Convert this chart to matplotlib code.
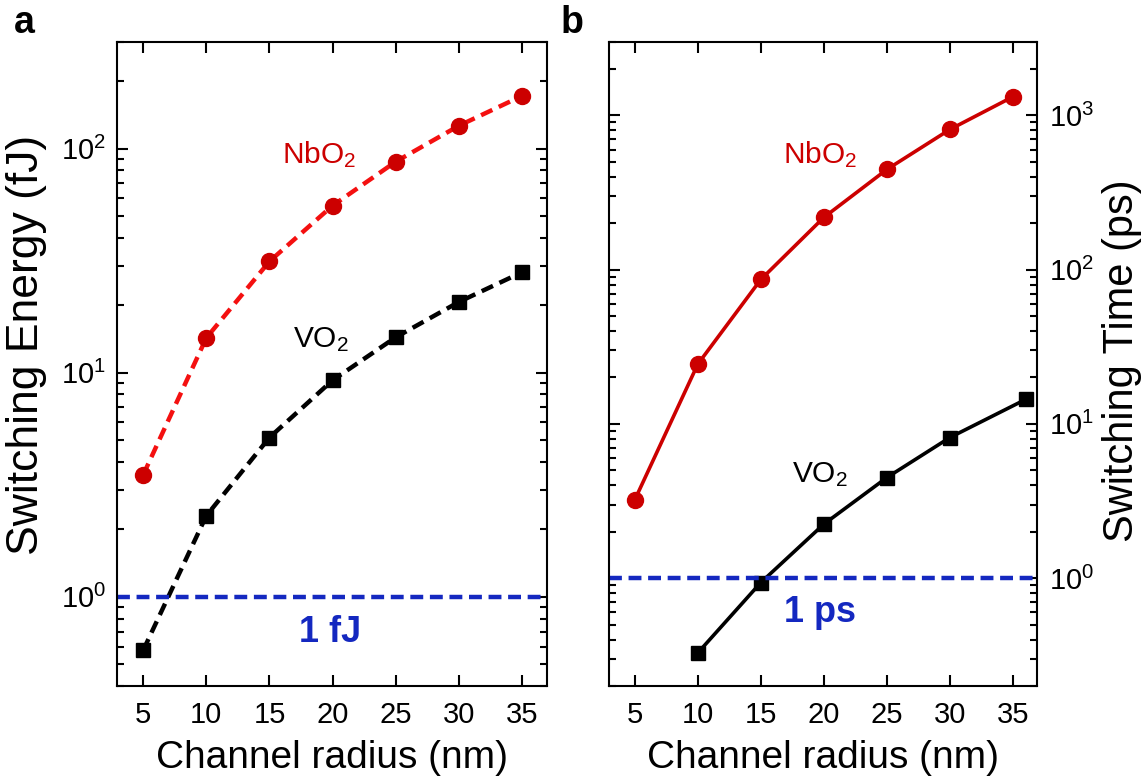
import matplotlib
matplotlib.use("Agg")
import matplotlib.pyplot as plt
from matplotlib.ticker import LogLocator, NullFormatter

plt.rcParams['font.family'] = ['Liberation Sans', 'DejaVu Sans']
plt.rcParams['mathtext.fontset'] = 'custom'
plt.rcParams['mathtext.rm'] = 'Liberation Sans'
plt.rcParams['mathtext.it'] = 'Liberation Sans:italic'
plt.rcParams['mathtext.bf'] = 'Liberation Sans:bold'

# data
radius = [5, 10, 15, 20, 25, 30, 35]
energy_nbo2 = [3.5, 14.3, 31.4, 55.7, 87.5, 126.6, 172]
energy_vo2 = [0.577, 2.30, 5.14, 9.26, 14.4, 20.7, 28.1]
time_nbo2 = [3.22, 24.4, 86.3, 218, 446, 810, 1320]
radius_vo2_time = [10, 15, 20, 25, 30, 36]
time_vo2 = [0.328, 0.937, 2.24, 4.49, 8.16, 14.4]
xticks = [5, 10, 15, 20, 25, 30, 35]

RED = '#cc0000'
RED_DASH = '#f41010'
BLUE = '#1428c0'

fig = plt.figure(figsize=(11.44, 7.80), dpi=100)
ax1 = fig.add_axes([0.1025, 0.1205, 0.3754, 0.826])
ax2 = fig.add_axes([0.5323, 0.1205, 0.3746, 0.826])


def style_axis(ax):
    ax.set_yscale('log')
    ax.set_xlim(2.95, 36.95)
    ax.set_xticks(xticks)
    ax.yaxis.set_major_locator(LogLocator(base=10, numticks=10))
    ax.yaxis.set_minor_locator(LogLocator(base=10, subs=range(2, 10), numticks=10))
    ax.yaxis.set_minor_formatter(NullFormatter())
    for s in ax.spines.values():
        s.set_linewidth(1.5)
    ax.tick_params(which='both', direction='in', top=True, bottom=True,
                   left=True, right=True, width=1.5, labelsize=21)
    ax.tick_params(which='major', length=8)
    ax.tick_params(which='minor', length=4.8)
    ax.tick_params(axis='x', pad=11)
    ax.tick_params(axis='y', pad=8)


# panel a: switching energy
style_axis(ax1)
ax1.set_ylim(0.4, 300)
ax1.plot(radius, energy_nbo2, ls='--', color=RED_DASH, lw=3.2, dashes=(2.8, 1.6))
ax1.plot(radius, energy_nbo2, ls='none', marker='o', ms=11.5, color=RED)
ax1.plot(radius, energy_vo2, ls='--', color='black', lw=3.2, dashes=(2.8, 1.6),
         marker='s', ms=9.5, markerfacecolor='black')
ax1.axhline(1.0, color=BLUE, lw=3.2, ls='--', dashes=(2.9, 1.5))
ax1.text(16.0, 85.7, r'NbO$_\mathdefault{2}$', color=RED, fontsize=21.5,
         ha='left', va='baseline')
ax1.text(16.86, 13.0, r'VO$_\mathdefault{2}$', color='black', fontsize=21.5,
         ha='left', va='baseline')
ax1.text(19.77, 0.63, '1 fJ', color=BLUE, fontsize=26, fontweight='bold',
         ha='center', va='baseline')
ax1.set_xlabel('Channel radius (nm)', fontsize=28, va='center')
ax1.xaxis.set_label_coords(0.5, -0.112)
ax1.set_ylabel('Switching Energy (fJ)', fontsize=32, va='center')
ax1.yaxis.set_label_coords(-0.212, 0.53)

# panel b: switching time
style_axis(ax2)
ax2.set_ylim(0.2, 3000)
ax2.plot(radius, time_nbo2, color=RED, lw=2.6, marker='o', ms=11.5)
ax2.plot(radius_vo2_time, time_vo2, color='black', lw=2.6, marker='s', ms=9.5)
ax2.axhline(1.0, color=BLUE, lw=3.2, ls='--', dashes=(2.9, 1.5))
ax2.yaxis.tick_right()
ax2.tick_params(which='both', left=True, right=True, labelleft=False, labelright=True)
ax2.text(16.78, 487, r'NbO$_\mathdefault{2}$', color=RED, fontsize=21.5,
         ha='left', va='baseline')
ax2.text(17.51, 4.2, r'VO$_\mathdefault{2}$', color='black', fontsize=21.5,
         ha='left', va='baseline')
ax2.text(19.73, 0.519, '1 ps', color=BLUE, fontsize=26, fontweight='bold',
         ha='center', va='baseline')
ax2.set_xlabel('Channel radius (nm)', fontsize=28, va='center')
ax2.xaxis.set_label_coords(0.5, -0.112)
ax2.yaxis.set_label_position('right')
ax2.set_ylabel('Switching Time (ps)', fontsize=30, va='center', rotation=90)
ax2.yaxis.set_label_coords(1.197, 0.505)

fig.text(14 / 1144, 1 - 33 / 780, 'a', fontsize=27, fontweight='bold', va='baseline')
fig.text(561 / 1144, 1 - 33 / 780, 'b', fontsize=27, fontweight='bold', va='baseline')

fig.savefig('out.png', dpi=100)
